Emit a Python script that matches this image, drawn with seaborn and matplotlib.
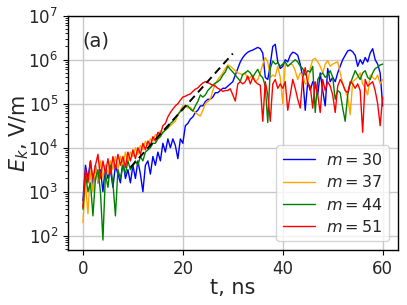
import numpy as np
import pandas as pd
import matplotlib
matplotlib.use("Agg")
import matplotlib.pyplot as plt
import seaborn as sns

# time grid (ns), 0.5 ns sampling
t = np.arange(0, 60.25, 0.5)

# log10(E_k), one value per 0.5 ns
logE_m30 = [
    2.8, 3.6, 3.3, 3.7, 3.1, 3.6, 3.2, 3.5, 3.0, 3.6,
    3.3, 3.5, 3.1, 3.6, 3.4, 3.2, 3.7, 3.3, 3.5, 3.2,
    3.6, 3.3, 3.7, 3.4, 3.0, 3.6, 3.7, 3.4, 3.8, 3.6,
    3.9, 3.7, 4.1, 3.9, 4.2, 4.0, 4.2, 4.05, 3.75, 4.2,
    4.1, 4.5, 4.55, 4.65, 4.7, 4.8, 4.85, 4.95, 4.95, 5.05,
    5.1, 5.1, 5.15, 5.25, 5.25, 5.3, 5.35, 5.35, 5.4, 5.45,
    5.5, 5.65, 5.8, 5.95, 6.05, 6.12, 6.17, 6.2, 6.22, 6.25,
    6.28, 6.25, 6.15, 5.6, 5.55, 5.9, 6.3, 6.35, 5.95, 5.8,
    5.85, 6.0, 5.95, 6.1, 6.17, 6.15, 6.1, 5.9, 5.6, 4.85,
    5.5, 5.3, 5.5, 5.45, 5.2, 5.7, 5.3, 4.95, 5.8, 5.5,
    5.6, 5.5, 5.7, 5.85, 6.0, 6.1, 6.2, 6.22, 6.18, 6.1,
    5.85, 6.0, 5.9, 6.05, 5.95, 6.15, 6.25, 6.0, 5.9, 5.7, 4.95,
]
logE_m37 = [
    2.3, 3.2, 2.5, 3.5, 3.0, 3.6, 3.2, 3.7, 3.3, 3.6,
    3.4, 3.7, 3.5, 3.8, 3.5, 3.8, 3.6, 3.9, 3.7, 3.9,
    3.8, 4.0, 3.85, 4.05, 3.95, 4.15, 4.05, 4.2, 4.15, 4.3,
    4.25, 4.38, 4.33, 4.42, 4.45, 4.5, 4.55, 4.6, 4.75, 4.85,
    4.95, 4.95, 4.9, 4.92, 4.85, 4.8, 4.75, 4.72, 4.85, 5.0,
    5.05, 5.1, 5.3, 5.45, 5.55, 5.62, 5.7, 5.8, 5.88, 5.85,
    5.8, 5.75, 5.7, 5.68, 5.65, 5.7, 5.55, 5.6, 5.65, 5.5,
    5.55, 5.7, 5.9, 6.05, 5.95, 5.6, 5.65, 5.62, 5.85, 5.6,
    5.0, 5.9, 5.85, 5.9, 5.88, 5.75, 5.55, 5.7, 5.65, 5.45,
    5.47, 5.8, 6.0, 6.03, 5.95, 5.85, 5.7, 5.9, 5.98, 5.85,
    5.9, 5.93, 5.95, 5.7, 5.45, 5.3, 5.15, 4.75, 5.5, 5.55,
    5.6, 5.7, 5.45, 5.35, 5.2, 5.65, 5.6, 5.55, 5.65, 5.45, 5.55,
]
logE_m44 = [
    2.6, 3.4, 3.0, 3.2, 2.45, 3.3, 3.5, 3.0, 1.9, 3.4,
    3.1, 3.6, 3.2, 2.45, 3.5, 3.3, 3.6, 3.4, 3.7, 3.5,
    3.6, 3.7, 3.6, 3.8, 3.7, 3.9, 3.95, 4.0, 4.1, 4.1,
    4.2, 4.25, 4.35, 4.4, 4.45, 4.55, 4.6, 4.68, 4.75, 4.82,
    4.9, 4.95, 4.95, 4.88, 4.83, 4.95, 5.05, 5.2, 5.15, 5.2,
    5.3, 5.36, 5.42, 5.47, 5.5, 5.55, 5.65, 5.72, 5.85, 5.78,
    5.72, 5.65, 5.58, 5.51, 5.67, 5.7, 5.75, 5.7, 5.6, 5.7,
    5.78, 5.65, 5.59, 5.4, 4.57, 5.8, 5.97, 5.9, 5.93, 5.85,
    5.9, 5.95, 5.85, 5.9, 5.95, 6.0, 5.95, 5.85, 5.8, 5.65,
    5.75, 5.72, 5.85, 4.8, 5.55, 5.65, 5.7, 5.6, 5.65, 5.75,
    5.6, 5.1, 5.3, 5.25, 4.9, 4.6, 5.2, 5.45, 5.6, 5.75,
    5.65, 5.55, 5.7, 5.75, 5.6, 5.55, 5.7, 5.8, 5.83, 5.88, 5.9,
]
logE_m51 = [
    2.65, 3.5, 3.2, 3.7, 3.3, 3.6, 3.85, 3.3, 3.7, 3.4,
    3.75, 3.4, 3.8, 3.5, 3.85, 3.6, 3.8, 3.55, 3.9, 3.7,
    3.95, 3.75, 4.0, 3.85, 4.1, 3.95, 4.15, 4.05, 4.25, 4.15,
    4.35, 4.3, 4.5, 4.55, 4.7, 4.8, 4.88, 4.95, 5.0, 5.08,
    5.15, 5.17, 5.2, 5.22, 5.28, 5.33, 5.36, 5.42, 5.47, 5.5,
    5.48, 5.45, 5.42, 5.4, 5.35, 5.32, 5.28, 5.3, 5.3, 5.34,
    5.2, 5.06, 5.45, 5.5, 5.45, 5.5, 5.63, 5.45, 5.6, 5.5,
    5.45, 5.42, 4.6, 5.5, 5.2, 4.6, 5.45, 5.55, 5.35, 5.45,
    5.35, 5.5, 4.85, 5.2, 5.55, 5.35, 5.1, 4.9, 5.6, 5.82,
    5.45, 5.4, 4.9, 5.5, 5.2, 4.8, 5.55, 5.3, 5.5, 5.4,
    5.2, 4.8, 5.4, 5.55, 5.45, 5.3, 5.25, 5.5, 5.45, 5.35,
    5.45, 5.3, 4.35, 5.55, 5.4, 5.45, 5.5, 5.3, 5.0, 4.5, 5.15,
]

labels = [r"$m = 30$", r"$m = 37$", r"$m = 44$", r"$m = 51$"]
colors = ["blue", "orange", "green", "red"]

# fitted growth line (t, log10 E) end points
fit_t = [9.5, 30.0]
fit_logE = [3.55, 6.14]

frames = []
for lab, vals in zip(labels, [logE_m30, logE_m37, logE_m44, logE_m51]):
    frames.append(pd.DataFrame({"t": t, "E": np.power(10.0, vals), "m": lab}))
df = pd.concat(frames, ignore_index=True)

sns.set_style("whitegrid")
plt.rcParams["font.family"] = ["DejaVu Sans"]
plt.rcParams["mathtext.fontset"] = "dejavusans"

fig = plt.figure(figsize=(4.07, 3.05), dpi=100)
ax = fig.add_axes([0.167, 0.18, 0.81, 0.7685])

sns.lineplot(data=df, x="t", y="E", hue="m", palette=colors, linewidth=1.0,
             estimator=None, ax=ax, legend=True)
ax.plot(fit_t, np.power(10.0, fit_logE), color="black", linestyle=(0, (4, 2.5)),
        linewidth=1.4)

ax.set_yscale("log")
ax.set_xlim(-3, 63)
ax.set_ylim(47, 1e7)
ax.set_xticks([0, 20, 40, 60])

ax.grid(True, which="major", color="#c8c8c8", linewidth=1.0)
ax.grid(False, which="minor")
for s in ax.spines.values():
    s.set_color("black")
    s.set_linewidth(1.0)
ax.tick_params(axis="both", which="major", labelsize=12, length=3.5,
               color="black", direction="out", left=True, bottom=True)
ax.tick_params(axis="y", which="minor", length=2, color="black", left=True)

ax.set_xlabel("t, ns", fontsize=15, labelpad=0)
ax.set_ylabel(r"$E_k$, V/m", fontsize=15, labelpad=-2)
ax.text(0.045, 0.89, "(a)", transform=ax.transAxes, fontsize=14,
        va="center", ha="left")

leg = ax.legend(loc="lower right", fontsize=11.5, frameon=True, title=None,
                handlelength=2.0, handletextpad=0.7, borderaxespad=0.55,
                labelspacing=0.4)
leg.get_frame().set_edgecolor("#cccccc")

fig.savefig("out.png", dpi=100)
